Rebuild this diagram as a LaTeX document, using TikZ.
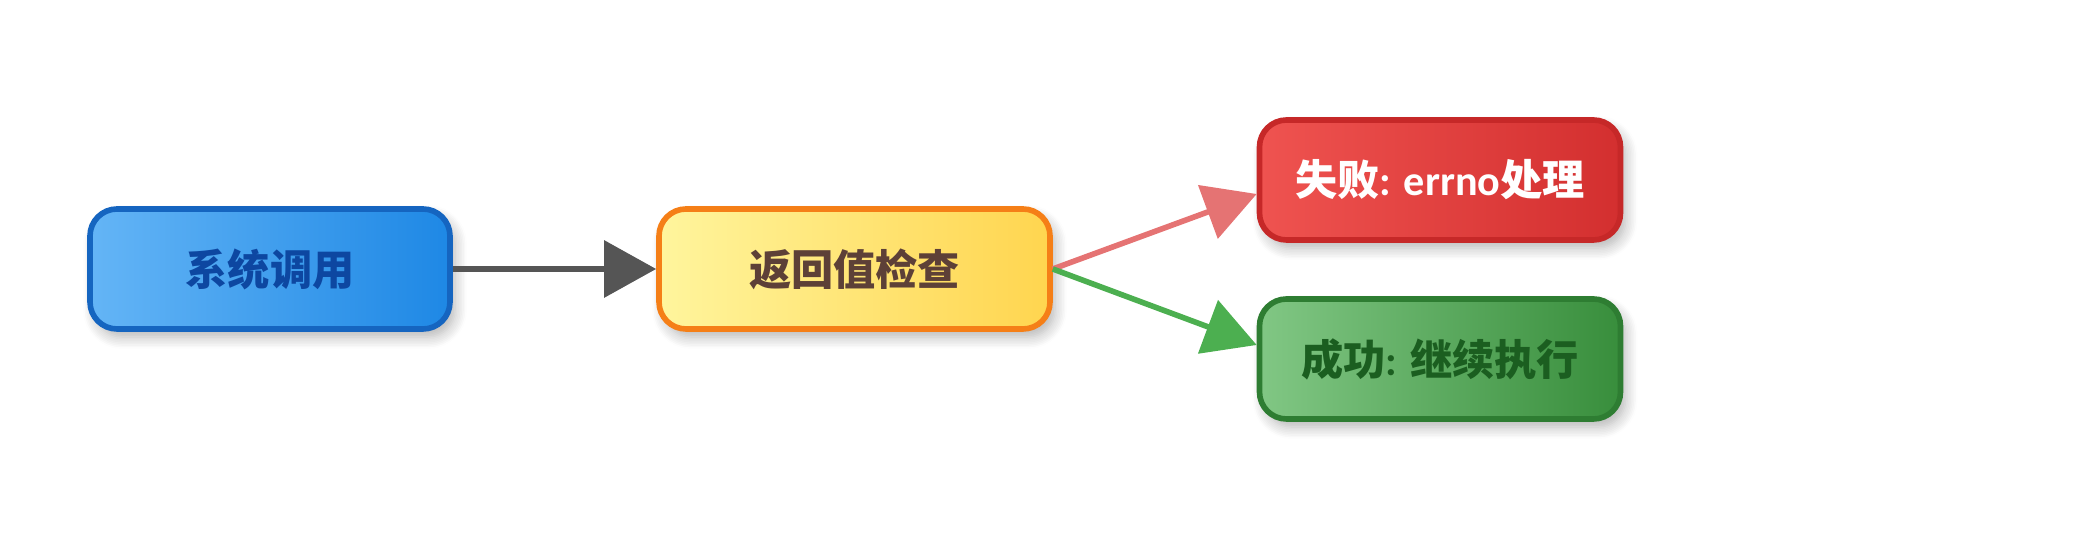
\documentclass[tikz,border=0pt]{standalone}
\usepackage{fontspec}
\setmainfont{Noto Sans CJK SC}
\newfontfamily\latinfont{Carlito}
\usetikzlibrary{arrows.meta,shadows.blur}

\definecolor{blueL}{HTML}{64B5F6}
\definecolor{blueR}{HTML}{1E88E5}
\definecolor{blueB}{HTML}{1565C0}
\definecolor{blueT}{HTML}{0D47A1}
\definecolor{yelL}{HTML}{FFF59D}
\definecolor{yelR}{HTML}{FFD54F}
\definecolor{yelB}{HTML}{F57F17}
\definecolor{yelT}{HTML}{5D4037}
\definecolor{redL}{HTML}{EF5350}
\definecolor{redR}{HTML}{D32F2F}
\definecolor{redB}{HTML}{C62828}
\definecolor{grnL}{HTML}{81C784}
\definecolor{grnR}{HTML}{388E3C}
\definecolor{grnB}{HTML}{2E7D32}
\definecolor{grnT}{HTML}{1B5E20}
\definecolor{arrGray}{HTML}{555555}
\definecolor{arrRed}{HTML}{E57373}
\definecolor{arrGrn}{HTML}{4CAF50}

\begin{document}
\begin{tikzpicture}[
    box/.style={rectangle, rounded corners=0.27cm, line width=1.6pt,
        minimum height=1.2cm, font=\fontsize{12pt}{14pt}\selectfont\bfseries,
        blur shadow={shadow xshift=0.05cm, shadow yshift=-0.08cm, shadow blur steps=8, shadow blur radius=0.12cm, shadow opacity=30}},
    flow/.style={line width=1.8pt, -{Triangle[length=0.52cm, width=0.56cm]}}
]
    \useasboundingbox (0,0) rectangle (21,5.4);
    \node[box, draw=blueB, left color=blueL, right color=blueR, text=blueT, minimum width=3.6cm] (call) at (2.70,2.71) {系统调用};
    \node[box, draw=yelB, left color=yelL, right color=yelR, text=yelT, minimum width=3.91cm] (check) at (8.545,2.71) {返回值检查};
    \node[box, draw=redB, left color=redL, right color=redR, text=white, minimum width=3.61cm] (fail) at (14.40,3.60) {失败{\latinfont: errno}处理};
    \node[box, draw=grnB, left color=grnL, right color=grnR, text=grnT, minimum width=3.61cm] (ok) at (14.40,1.81) {成功{\latinfont: }继续执行};

    \draw[flow, color=arrGray] (call) -- (check);
    \draw[flow, color=arrRed, line width=1.6pt] (check.east) -- ([yshift=-0.14cm]fail.west);
    \draw[flow, color=arrGrn, line width=1.6pt] (check.east) -- ([yshift=0.14cm]ok.west);
\end{tikzpicture}
\end{document}
